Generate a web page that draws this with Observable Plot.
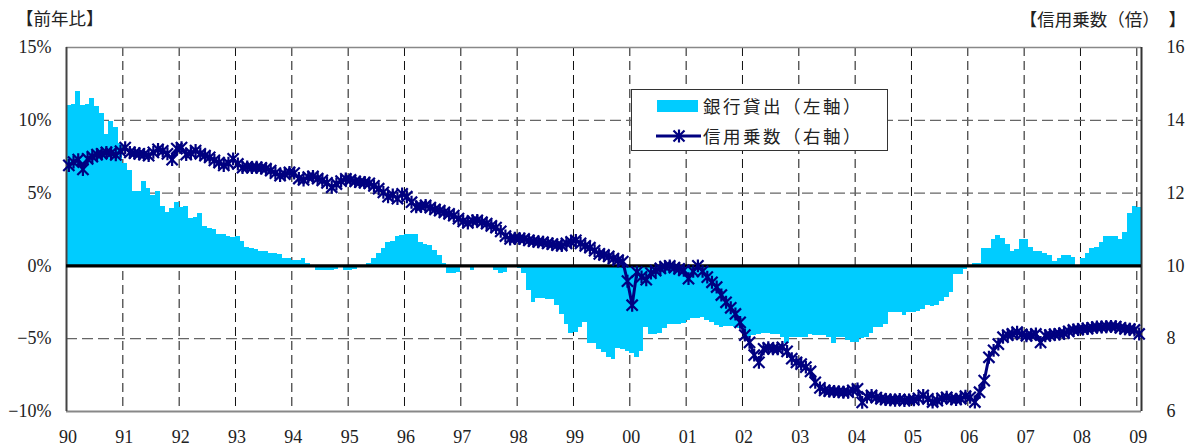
<!DOCTYPE html>
<html>
<head>
<meta charset="utf-8">
<script src="https://cdn.jsdelivr.net/npm/d3@7"></script>
<script src="https://cdn.jsdelivr.net/npm/@observablehq/plot@0.6"></script>
<style>
  html, body { margin: 0; padding: 0; background: #fff; }
  #wrap { position: relative; width: 1196px; height: 447px; }
  #wrap svg { position: absolute; left: 0; top: 0; }
  .jp { position: absolute; font-family: "Noto Sans CJK JP", sans-serif; color: #222; line-height: 1; white-space: nowrap; }
  #legend { position: absolute; left: 631px; top: 89px; width: 257px; height: 62px; border: 1px solid #333; background: #fff; box-sizing: border-box; }
</style>
</head>
<body>
<div id="wrap">
  <div class="jp" style="left:16px; top:9px; font-size:17.5px;">【前年比】</div>
  <div class="jp" style="right:10px; top:10px; font-size:17.5px;">【信用乗数（倍）　】</div>
</div>
<script>
// ---- data (monthly, Jan 1990 – Jan 2009) ----
const startYear = 1990;
const seriesNames = ["銀行貸出（左軸）", "信用乗数（右軸）"];
const yearTicks = [1990,1991,1992,1993,1994,1995,1996,1997,1998,1999,2000,2001,2002,2003,2004,2005,2006,2007,2008,2009];
const yearLabels = ["90","91","92","93","94","95","96","97","98","99","00","01","02","03","04","05","06","07","08","09"];
const leftTicks = [-10, -5, 0, 5, 10, 15];
const leftLabels = ["−10%", "−5%", "0%", "5%", "10%", "15%"];
const rightLabels = ["6", "8", "10", "12", "14", "16"];

// 銀行貸出 前年比 (%)
const loanYoY = [
  11.0, 11.1, 12.0, 11.0, 11.1, 11.5, 10.95, 10.5, 9.0, 9.9, 9.5, 8.4,
  7.0, 6.55, 5.1, 5.1, 5.8, 5.34, 4.83, 5.1, 4.08, 3.7, 3.92, 4.35,
  4.0, 4.08, 3.23, 3.3, 3.6, 2.7, 2.6, 2.5, 2.15, 2.15, 2.0, 1.95,
  2.05, 1.7, 1.28, 1.22, 1.1, 0.99, 0.99, 0.83, 0.83, 0.78, 0.53, 0.53,
  0.37, 0.37, 0.53, 0.14, 0.02, -0.3, -0.33, -0.3, -0.3, -0.28, 0.0, -0.3,
  -0.33, -0.25, 0.02, 0.03, 0.14, 0.49, 0.83, 1.2, 1.6, 1.7, 2.04, 2.08,
  2.15, 2.16, 2.15, 1.63, 1.5, 1.42, 1.04, 0.71, 0.19, -0.55, -0.55, -0.42,
  -0.05, -0.05, -0.3, -0.04, -0.04, 0.0, -0.04, -0.3, -0.52, -0.42, -0.12, -0.12,
  -0.15, -0.55, -1.66, -2.5, -2.26, -2.26, -2.28, -2.33, -2.7, -3.35, -4.0, -4.67,
  -4.6, -4.23, -3.86, -5.32, -5.35, -5.77, -5.95, -6.3, -6.45, -5.64, -5.77, -5.88,
  -6.0, -6.27, -5.9, -4.23, -4.7, -4.7, -4.62, -4.3, -4.02, -4.02, -4.02, -3.95,
  -3.75, -3.63, -3.6, -3.57, -3.78, -3.88, -4.12, -4.2, -4.17, -4.15, -4.25, -4.32,
  -4.55, -4.92, -4.75, -4.72, -4.67, -4.67, -4.7, -4.72, -4.9, -5.3, -4.9, -4.9,
  -4.9, -4.9, -4.71, -4.8, -4.8, -4.8, -4.9, -5.3, -4.9, -4.9, -5.12, -5.24,
  -5.24, -5.0, -4.9, -4.62, -4.25, -4.25, -4.02, -3.18, -3.18, -3.18, -3.4, -3.18,
  -3.18, -3.11, -3.02, -2.72, -2.77, -2.72, -2.45, -2.19, -1.8, -0.6, -0.6, -0.25,
  0.03, 0.19, 0.19, 1.22, 1.22, 1.81, 2.09, 1.86, 1.47, 0.99, 1.13, 1.81,
  1.81, 1.24, 0.99, 0.99, 0.87, 0.71, 0.3, 0.53, 0.71, 0.71, 0.55, 0.03,
  0.53, 0.87, 1.22, 1.28, 1.63, 2.02, 2.02, 2.02, 1.81, 2.31, 3.62, 4.1,
  3.99
];

// 信用乗数 (倍)
const creditMult = [
  12.76, 12.85, 12.92, 12.65, 12.94, 13.00, 13.06, 13.08, 13.12, 13.10, 13.05, 13.15,
  13.25, 13.12, 13.10, 13.08, 13.06, 13.03, 13.12, 13.20, 13.16, 13.08, 12.92, 13.22,
  13.25, 13.06, 13.10, 13.17, 13.08, 13.03, 12.98, 12.90, 12.84, 12.76, 12.82, 12.94,
  12.80, 12.70, 12.72, 12.70, 12.71, 12.69, 12.67, 12.62, 12.55, 12.48, 12.52, 12.57,
  12.55, 12.40, 12.36, 12.44, 12.46, 12.40, 12.35, 12.28, 12.16, 12.25, 12.33, 12.39,
  12.36, 12.32, 12.30, 12.29, 12.27, 12.20, 12.12, 12.02, 11.90, 11.95, 11.85, 11.98,
  11.90, 11.75, 11.62, 11.64, 11.66, 11.60, 11.55, 11.52, 11.47, 11.43, 11.38, 11.30,
  11.22, 11.18, 11.24, 11.25, 11.20, 11.16, 11.10, 11.05, 10.95, 10.82, 10.74, 10.76,
  10.75, 10.74, 10.70, 10.68, 10.66, 10.65, 10.62, 10.60, 10.57, 10.56, 10.62, 10.66,
  10.70, 10.62, 10.55, 10.50, 10.42, 10.33, 10.30, 10.26, 10.20, 10.16, 10.12, 9.58,
  8.92, 9.83, 9.70, 9.62, 9.80, 9.87, 9.93, 9.98, 10.00, 9.95, 9.92, 9.88,
  9.65, 9.85, 10.00, 9.85, 9.69, 9.55, 9.42, 9.20, 9.00, 8.85, 8.68, 8.45,
  8.10, 7.90, 7.55, 7.35, 7.72, 7.75, 7.72, 7.72, 7.76, 7.65, 7.45, 7.35,
  7.30, 7.22, 7.10, 6.80, 6.65, 6.58, 6.56, 6.55, 6.54, 6.53, 6.53, 6.58,
  6.62, 6.25, 6.40, 6.44, 6.38, 6.35, 6.33, 6.32, 6.31, 6.33, 6.30, 6.32,
  6.32, 6.36, 6.44, 6.35, 6.26, 6.30, 6.36, 6.39, 6.35, 6.33, 6.35, 6.42,
  6.39, 6.26, 6.53, 6.85, 7.49, 7.68, 7.85, 8.04, 8.10, 8.13, 8.18, 8.12,
  8.08, 8.10, 8.13, 7.90, 8.08, 8.10, 8.12, 8.13, 8.15, 8.20, 8.24, 8.25,
  8.27, 8.28, 8.30, 8.32, 8.32, 8.33, 8.34, 8.33, 8.30, 8.27, 8.26, 8.24,
  8.13
];

// ---- build tables ----
const bars = loanYoY.map((v, i) => ({x1: startYear + i / 12, x2: startYear + (i + 1) / 12, v}));
const toLeft = c => (c - 10) * 2.5;        // right axis 6–16 mapped onto left axis −10–15
const mult = creditMult.map((c, i) => ({x: startYear + (i + 0.5) / 12, y: toLeft(c)}));
const xEnd = startYear + loanYoY.length / 12;

const starSymbol = {
  draw(ctx, size) {
    const r = Math.sqrt(size / Math.PI);
    ctx.moveTo(-r, -r); ctx.lineTo(r, r);
    ctx.moveTo(-r, r); ctx.lineTo(r, -r);
    ctx.moveTo(0, -r * 1.15); ctx.lineTo(0, r * 1.15);
  }
};

const chart = Plot.plot({
  width: 1196,
  height: 447,
  marginTop: 47,
  marginRight: 55,
  marginBottom: 36,
  marginLeft: 66,
  style: {fontFamily: "'Liberation Serif', serif", fontSize: "18px", color: "#222", background: "transparent", overflow: "visible"},
  x: {domain: [startYear, xEnd]},
  y: {domain: [-10, 15]},
  marks: [
    Plot.gridX(yearTicks.slice(1), {stroke: "#111", strokeOpacity: 1, strokeDasharray: "9,5"}),
    Plot.gridY([-5, 5, 10], {stroke: "#666", strokeOpacity: 1, strokeDasharray: "11,5", strokeWidth: 1.2}),
    Plot.rectY(bars, {x1: "x1", x2: "x2", y: "v", fill: "#00CCFF", shapeRendering: "crispEdges"}),
    Plot.ruleY([15], {stroke: "#888", strokeWidth: 1.5}),
    Plot.ruleY([-10], {stroke: "#888", strokeWidth: 2}),
    Plot.ruleX([startYear], {stroke: "#444", strokeWidth: 2}),
    Plot.ruleX([xEnd], {stroke: "#333", strokeWidth: 2}),
    Plot.ruleY([0], {stroke: "#000", strokeWidth: 3.2}),
    Plot.line(mult, {x: "x", y: "y", stroke: "#000080", strokeWidth: 3}),
    Plot.dot(mult, {x: "x", y: "y", symbol: starSymbol, r: 5.6, stroke: "#000080", strokeWidth: 2.2, fill: "none"}),
    Plot.axisX({ticks: yearTicks, tickFormat: d => yearLabels[yearTicks.indexOf(d)], tickSize: 0, tickPadding: 19, label: null, dx: 1.5}),
    Plot.axisY({ticks: leftTicks, tickFormat: d => leftLabels[leftTicks.indexOf(d)], tickSize: 0, tickPadding: 15, label: null}),
    Plot.axisY({anchor: "right", ticks: leftTicks, tickFormat: d => rightLabels[leftTicks.indexOf(d)], tickSize: 0, tickPadding: 25, label: null})
  ]
});

const wrap = document.getElementById("wrap");
wrap.insertBefore(chart, wrap.firstChild);

// legend
const legend = document.createElement("div");
legend.id = "legend";
legend.innerHTML = `
  <div style="position:absolute; left:25px; top:10px; width:41px; height:12px; background:#00CCFF;"></div>
  <div class="jp" style="left:71px; top:7px; font-size:17.5px; letter-spacing:2.5px;">${seriesNames[0]}</div>
  <svg style="position:absolute; left:22px; top:38px;" width="50" height="16">
    <line x1="2" y1="8" x2="47" y2="8" stroke="#000080" stroke-width="3"/>
    <path d="M19.5,2.5 L30.5,13.5 M19.5,13.5 L30.5,2.5 M25,1.5 L25,14.5" stroke="#000080" stroke-width="2.2" fill="none"/>
  </svg>
  <div class="jp" style="left:71px; top:37px; font-size:17.5px; letter-spacing:2.5px;">${seriesNames[1]}</div>`;
wrap.appendChild(legend);
</script>
</body>
</html>
